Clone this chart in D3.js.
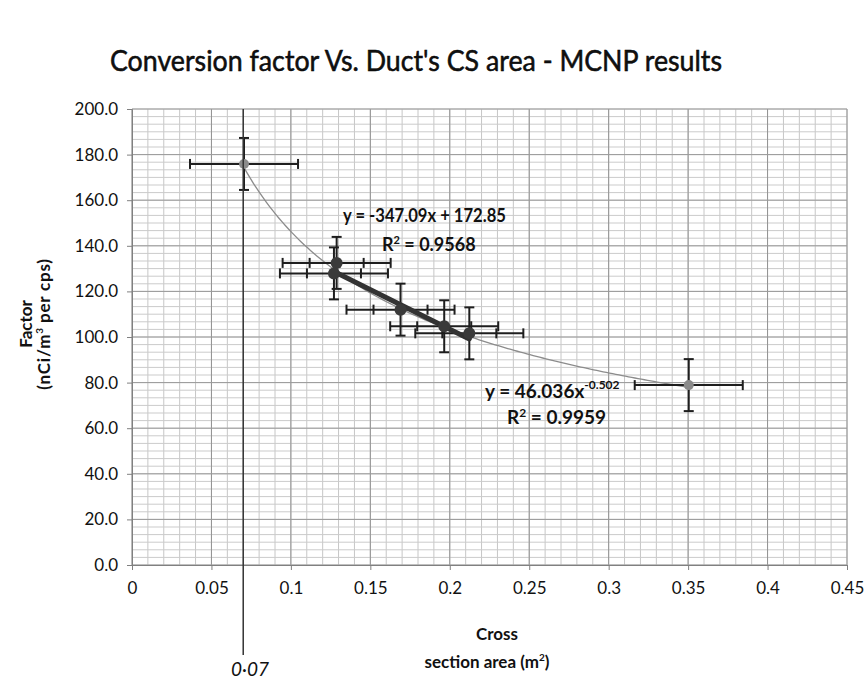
<!DOCTYPE html>
<html>
<head>
<meta charset="utf-8">
<script src="https://cdn.jsdelivr.net/npm/d3@7"></script>
<style>
body{margin:0;background:#fff;}
text{font-family:Lato,"Open Sans",sans-serif;fill:#111;}
</style>
</head>
<body>
<script>
var w=864;
var h=679;

// data
var edgeX=[0.0705,0.3504];
var edgeY=[175.9,78.9];
var midX=[0.1288,0.1271,0.1690,0.1965,0.2123];
var midY=[132.5,127.9,112.0,104.7,101.6];
var errX=0.034;      // outer x error
var errXin=0.017;    // inner x error caps
var errY=11.4;

var xTicks=[0,0.05,0.1,0.15,0.2,0.25,0.3,0.35,0.4,0.45];
var xTickLabels=["0","0.05","0.1","0.15","0.2","0.25","0.3","0.35","0.4","0.45"];
var yTicks=[0,20,40,60,80,100,120,140,160,180,200];

// trendlines as labelled on the chart
var powA=46.036, powB=-0.502;
var linM=-347.09, linC=172.85;

var svg=d3.select("body").append("svg")
	.attr('width',w)
	.attr('height',h);

var x=d3.scaleLinear().domain([0,0.45]).range([132,847]);
var y=d3.scaleLinear().domain([0,200]).range([565,109]);

// gridlines, minor then major
var grid=svg.append("g");
grid.selectAll(".vmin").data(d3.range(0,0.4501,0.01))
	.enter().append("line")
	.attr("x1",d=>x(d)).attr("x2",d=>x(d))
	.attr("y1",y(0)).attr("y2",y(200))
	.attr("stroke","#c6c6c6");
grid.selectAll(".hmin").data(d3.range(0,200.01,20/6))
	.enter().append("line")
	.attr("y1",d=>y(d)).attr("y2",d=>y(d))
	.attr("x1",x(0)).attr("x2",x(0.45))
	.attr("stroke","#cbcbcb");
grid.selectAll(".vmaj").data(xTicks)
	.enter().append("line")
	.attr("x1",d=>x(d)).attr("x2",d=>x(d))
	.attr("y1",y(0)).attr("y2",y(200))
	.attr("stroke","#929292");
grid.selectAll(".hmaj").data(yTicks)
	.enter().append("line")
	.attr("y1",d=>y(d)).attr("y2",d=>y(d))
	.attr("x1",x(0)).attr("x2",x(0.45))
	.attr("stroke","#9a9a9a");

// axes
var xAxis=svg.append("g").attr("transform","translate(0,"+y(0)+")")
	.call(d3.axisBottom(x).tickValues(xTicks).tickSize(5).tickFormat((d,i)=>xTickLabels[i]));
var yAxis=svg.append("g").attr("transform","translate("+x(0)+",0)")
	.call(d3.axisLeft(y).tickValues(yTicks).tickSize(5).tickFormat(d=>d.toFixed(1)));
[xAxis,yAxis].forEach(function(a){
	a.select(".domain").attr("stroke","#808080");
	a.selectAll(".tick line").attr("stroke","#808080");
	a.selectAll(".tick text").attr("font-size",17).attr("font-family","Lato").attr("fill","#1a1a1a");
});
xAxis.selectAll(".tick text").attr("y",29).attr("dy",0);
yAxis.selectAll(".tick text").attr("x",-14);

// power trendline over all points
var allX=edgeX.concat(midX);
var px=d3.range(d3.min(allX),d3.max(allX)+0.0001,0.002);
svg.append("path")
	.datum(px)
	.attr("fill","none")
	.attr("stroke","#8c8c8c")
	.attr("stroke-width",1.3)
	.attr("d",d3.line().x(d=>x(d)).y(d=>y(powA*Math.pow(d,powB))));

// error bars
var pts=[];
edgeX.forEach((d,i)=>pts.push({x:d,y:edgeY[i],mid:false}));
midX.forEach((d,i)=>pts.push({x:d,y:midY[i],mid:true}));

var eb=svg.append("g").attr("stroke","#1e1e1e").attr("stroke-width",2);
pts.forEach(function(p){
	eb.append("line").attr("x1",x(p.x-errX)).attr("x2",x(p.x+errX))
		.attr("y1",y(p.y)).attr("y2",y(p.y));
	eb.append("line").attr("x1",x(p.x)).attr("x2",x(p.x))
		.attr("y1",y(p.y-errY)).attr("y2",y(p.y+errY));
	[p.x-errX,p.x+errX].forEach(function(v){
		eb.append("line").attr("x1",x(v)).attr("x2",x(v))
			.attr("y1",y(p.y)-5).attr("y2",y(p.y)+5);
	});
	[p.y-errY,p.y+errY].forEach(function(v){
		eb.append("line").attr("y1",y(v)).attr("y2",y(v))
			.attr("x1",x(p.x)-5).attr("x2",x(p.x)+5);
	});
	if(p.mid){
		[p.x-errXin,p.x+errXin].forEach(function(v){
			eb.append("line").attr("x1",x(v)).attr("x2",x(v))
				.attr("y1",y(p.y)-5).attr("y2",y(p.y)+5);
		});
	}
});

// linear trendline over the middle points
svg.append("line")
	.attr("x1",x(d3.min(midX))).attr("y1",y(linM*d3.min(midX)+linC))
	.attr("x2",x(d3.max(midX))).attr("y2",y(linM*d3.max(midX)+linC))
	.attr("stroke","#333").attr("stroke-width",5).attr("stroke-linecap","round");

// markers
svg.selectAll(".edge").data(edgeX).enter().append("circle")
	.attr("cx",d=>x(d)).attr("cy",(d,i)=>y(edgeY[i])).attr("r",5)
	.attr("fill","#8a8a8a");
svg.selectAll(".mid").data(midX).enter().append("circle")
	.attr("cx",d=>x(d)).attr("cy",(d,i)=>y(midY[i])).attr("r",6)
	.attr("fill","#3a3a3a");

// hand drawn mark at 0.07
svg.append("line")
	.attr("x1",x(0.07)).attr("x2",x(0.07))
	.attr("y1",y(200)).attr("y2",655)
	.attr("stroke","#333").attr("stroke-width",1.5);
svg.append("text")
	.attr("x",250).attr("y",676)
	.attr("text-anchor","middle")
	.attr("font-family","DejaVu Serif").attr("font-style","italic")
	.attr("font-size",19).attr("fill","#555")
	.text("0·07");

// title
svg.append("text")
	.attr("x",110).attr("y",71)
	.attr("font-size",28)
	.attr("fill","#000").attr("stroke","#000").attr("stroke-width",0.5)
	.attr("textLength",612).attr("lengthAdjust","spacingAndGlyphs")
	.text("Conversion factor Vs. Duct's CS area - MCNP results");

// equations
svg.append("text").attr("x",343).attr("y",222).attr("font-size",18).attr("font-weight","bold")
	.attr("textLength",163).attr("lengthAdjust","spacingAndGlyphs")
	.text("y = -347.09x + 172.85");
var r1=svg.append("text").attr("x",382).attr("y",251).attr("font-size",18).attr("font-weight","bold");
r1.append("tspan").text("R");
r1.append("tspan").attr("font-size",11).attr("dy",-7).text("2");
r1.append("tspan").attr("dy",7).text(" = 0.9568");

var e2=svg.append("text").attr("x",485).attr("y",398).attr("font-size",19).attr("font-weight","bold");
e2.append("tspan").text("y = 46.036x");
e2.append("tspan").attr("font-size",12).attr("dy",-9).text("-0.502");
var r2=svg.append("text").attr("x",507).attr("y",424).attr("font-size",19).attr("font-weight","bold");
r2.append("tspan").text("R");
r2.append("tspan").attr("font-size",12).attr("dy",-7).text("2");
r2.append("tspan").attr("dy",7).text(" = 0.9959");

// axis titles
var yt=svg.append("text").attr("transform","translate(0,324) rotate(-90)")
	.attr("text-anchor","middle").attr("font-weight","bold").attr("font-size",17);
yt.append("tspan").attr("x",0).attr("y",32).text("Factor");
yt.append("tspan").attr("x",0).attr("y",50).attr("letter-spacing",0.8).text("(nCi/m");
yt.append("tspan").attr("font-size",10).attr("dy",-7).text("3");
yt.append("tspan").attr("dy",7).attr("letter-spacing",0.8).text(" per cps)");

var xt=svg.append("text").attr("text-anchor","middle").attr("font-weight","bold").attr("font-size",17);
xt.append("tspan").attr("x",497).attr("y",640).text("Cross");
xt.append("tspan").attr("x",487).attr("y",668).text("section area (m");
xt.append("tspan").attr("font-size",10).attr("dy",-7).text("2");
xt.append("tspan").attr("dy",7).text(")");
</script>
</body>
</html>
